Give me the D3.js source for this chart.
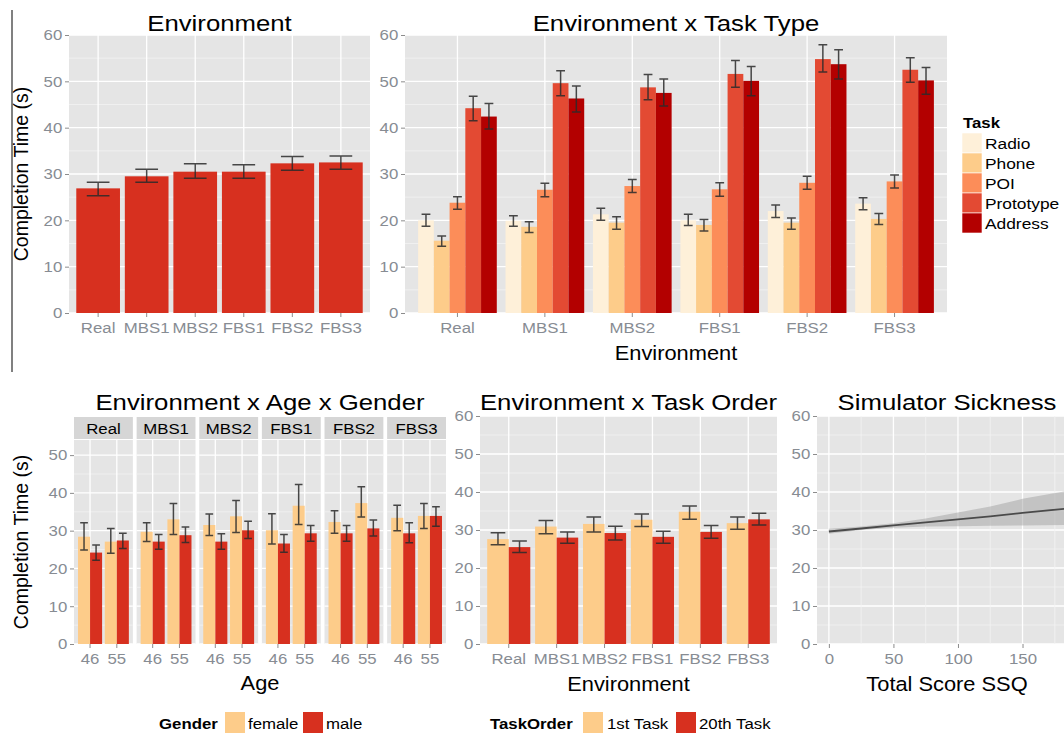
<!DOCTYPE html>
<html>
<head>
<meta charset="utf-8">
<script src="https://cdn.jsdelivr.net/npm/d3@7"></script>
<style>
  body { margin: 0; background: #fff; }
  svg { display: block; }
</style>
</head>
<body>
<svg id="chart" width="1064" height="733"></svg>
<script>
// ---------- data ----------
const envs = ["Real", "MBS1", "MBS2", "FBS1", "FBS2", "FBS3"];

// Environment (overall)
const envMean = [26.9, 29.5, 30.5, 30.5, 32.3, 32.5];
const envLow  = [25.3, 28.2, 29.1, 29.1, 30.8, 31.0];
const envHigh = [28.2, 31.0, 32.2, 32.0, 33.8, 33.9];

// Environment x Task Type
const tasks = ["Radio", "Phone", "POI", "Prototype", "Address"];
const radioMean = [20.0, 19.9, 21.3, 20.0, 22.0, 23.6];
const radioLow  = [18.7, 18.7, 20.0, 18.9, 20.6, 22.3];
const radioHigh = [21.3, 21.0, 22.6, 21.3, 23.3, 24.9];
const phoneMean = [15.6, 18.6, 19.5, 19.0, 19.5, 20.3];
const phoneLow  = [14.4, 17.4, 18.1, 17.7, 18.1, 19.1];
const phoneHigh = [16.6, 19.7, 20.8, 20.2, 20.5, 21.5];
const poiMean   = [23.8, 26.6, 27.4, 26.7, 28.1, 28.4];
const poiLow    = [22.4, 25.1, 26.0, 25.2, 26.7, 27.0];
const poiHigh   = [25.1, 28.0, 28.8, 28.1, 29.5, 29.8];
const protoMean = [44.2, 49.6, 48.7, 51.6, 54.8, 52.5];
const protoLow  = [41.5, 46.9, 46.0, 48.7, 52.0, 49.8];
const protoHigh = [46.8, 52.3, 51.5, 54.5, 57.9, 55.1];
const addrMean  = [42.4, 46.3, 47.5, 50.1, 53.7, 50.2];
const addrLow   = [39.7, 43.4, 44.7, 46.9, 50.5, 47.2];
const addrHigh  = [45.2, 49.0, 50.5, 53.2, 56.8, 53.0];

// Environment x Age x Gender
const ages = ["46", "55"];
const genders = ["female", "male"];
const female46Mean = [28.4, 29.7, 31.5, 30.1, 32.3, 33.4];
const female46Low  = [24.9, 27.1, 28.7, 26.5, 29.3, 30.0];
const female46High = [32.1, 32.1, 34.4, 34.5, 35.3, 36.7];
const male46Mean   = [24.2, 27.1, 27.1, 26.6, 29.3, 29.3];
const male46Low    = [22.2, 25.1, 25.1, 24.3, 27.2, 26.8];
const male46High   = [26.2, 29.0, 29.2, 29.0, 31.4, 32.1];
const female55Mean = [27.1, 33.0, 33.8, 36.6, 37.3, 33.9];
const female55Low  = [24.0, 29.0, 29.5, 31.6, 33.6, 30.6];
const female55High = [30.6, 37.2, 38.0, 42.2, 41.6, 37.2];
const male55Mean   = [27.4, 28.8, 30.1, 29.3, 30.6, 33.9];
const male55Low    = [25.3, 26.9, 27.9, 27.2, 28.6, 31.2];
const male55High   = [29.3, 31.0, 32.5, 31.4, 32.8, 36.3];

// Environment x Task Order
const orders = ["1st Task", "20th Task"];
const firstMean = [27.6, 30.9, 31.6, 32.7, 34.8, 31.8];
const firstLow  = [26.1, 29.0, 29.5, 30.9, 32.8, 30.2];
const firstHigh = [29.3, 32.5, 33.4, 34.2, 36.3, 33.4];
const lastMean  = [25.5, 28.0, 29.2, 28.2, 29.5, 32.8];
const lastLow   = [24.1, 26.5, 27.4, 26.5, 27.8, 31.3];
const lastHigh  = [27.1, 29.5, 31.0, 29.7, 31.2, 34.4];

// Simulator sickness: fitted trend with confidence band
const ssqScore = [0, 25, 50, 75, 100, 125, 150, 183];
const ssqFit   = [29.6, 30.4, 31.2, 32.0, 32.8, 33.6, 34.5, 35.6];
const ssqLower = [29.0, 30.0, 30.6, 30.9, 31.0, 31.1, 31.2, 31.3];
const ssqUpper = [30.3, 30.9, 31.8, 33.0, 34.6, 36.2, 38.2, 40.2];

const yTicks60 = [0, 10, 20, 30, 40, 50, 60];
const yTicks50 = [0, 10, 20, 30, 40, 50];
const ssqTicks = [0, 50, 100, 150];

// ---------- style ----------
const FONT = '"Liberation Sans", Arial, Helvetica, sans-serif';
const SX = 1.12;                 // horizontal text stretch
const PANEL_BG = "#E5E5E5";
const GRID_MAJOR = "#FFFFFF";
const GRID_MINOR = "#F2F2F2";
const TICK_TXT = "#878c93";
const TICK_LINE = "#8c8c8c";
const RED = "#D7301F";
const PEACH = "#FDCC8A";
const taskColors = ["#FEF0D9", "#FDCC8A", "#FC8D59", "#E34A33", "#B30000"];
const ERR = "#2a2a2a";

const svg = d3.select("#chart");
svg.append("rect").attr("width", 1064).attr("height", 733).attr("fill", "#fff");

// ---------- helpers ----------
function label(g, x, y, s, o = {}) {
  const sx = o.sx ?? SX;
  return g.append("text")
    .attr("transform", `translate(${x},${y})` + (o.rotate ? ` rotate(${o.rotate})` : "") + ` scale(${sx},1)`)
    .attr("text-anchor", o.anchor || "middle")
    .attr("font-family", FONT)
    .attr("font-size", o.size || 15)
    .attr("font-weight", o.weight || "normal")
    .attr("fill", o.fill || "#000")
    .text(s);
}

function panelBg(g, x0, x1, y0, y1) {
  g.append("rect").attr("x", x0).attr("y", y0)
    .attr("width", x1 - x0).attr("height", y1 - y0).attr("fill", PANEL_BG);
}

function hGrid(g, y, x0, x1, majors, minors) {
  g.append("g").selectAll("line").data(minors).join("line")
    .attr("x1", x0).attr("x2", x1).attr("y1", d => y(d)).attr("y2", d => y(d))
    .attr("stroke", GRID_MINOR).attr("stroke-width", 0.8);
  g.append("g").selectAll("line").data(majors).join("line")
    .attr("x1", x0).attr("x2", x1).attr("y1", d => y(d)).attr("y2", d => y(d))
    .attr("stroke", GRID_MAJOR).attr("stroke-width", 1.3);
}

function vGrid(g, xs, y0, y1, color, w) {
  g.append("g").selectAll("line").data(xs).join("line")
    .attr("x1", d => d).attr("x2", d => d).attr("y1", y0).attr("y2", y1)
    .attr("stroke", color).attr("stroke-width", w);
}

function styleAxis(ax) {
  ax.select(".domain").remove();
  ax.selectAll(".tick line").attr("stroke", TICK_LINE).attr("stroke-width", 1);
  ax.selectAll(".tick text")
    .attr("fill", TICK_TXT).attr("font-size", 15).attr("font-family", FONT)
    .attr("transform", `scale(${SX},1)`);
}

function leftAxis(g, y, ticks, xEdge) {
  g.append("g").attr("transform", `translate(${xEdge},0)`)
    .call(d3.axisLeft(y).tickValues(ticks).tickSizeInner(4).tickSizeOuter(0).tickPadding(2))
    .call(styleAxis);
}

function bottomAxisBand(g, x, yEdge, fmt) {
  g.append("g").attr("transform", `translate(0,${yEdge})`)
    .call(d3.axisBottom(x).tickSizeInner(4).tickSizeOuter(0).tickPadding(5).tickFormat(fmt || (d => d)))
    .call(styleAxis);
}

function errorBars(g, data, y, halfW) {
  g.append("g").selectAll("path").data(data).join("path")
    .attr("d", d => `M${d.cx - halfW},${y(d.hi)}H${d.cx + halfW}M${d.cx},${y(d.hi)}V${y(d.lo)}M${d.cx - halfW},${y(d.lo)}H${d.cx + halfW}`)
    .attr("fill", "none").attr("stroke", ERR).attr("stroke-opacity", 0.85).attr("stroke-width", 1.5);
}

const minors60 = [5, 15, 25, 35, 45, 55];

// ---------- left rule ----------
svg.append("line").attr("x1", 12).attr("x2", 12).attr("y1", 10).attr("y2", 372)
  .attr("stroke", "#808080").attr("stroke-width", 2);

// ---------- Panel: Environment ----------
{
  const g = svg.append("g");
  const x0 = 69, x1 = 370, y0 = 35, y1 = 313;
  const x = d3.scaleBand().domain(envs).range([x0, x1]).paddingInner(0.1).paddingOuter(0.15);
  const y = d3.scaleLinear().domain([0, 60]).range([y1, y0]);
  panelBg(g, x0, x1, y0, y1);
  hGrid(g, y, x0, x1, yTicks60, minors60);
  vGrid(g, envs.map(e => x(e) + x.bandwidth() / 2), y0, y1, GRID_MAJOR, 1.3);
  const rows = envs.map((e, i) => ({ env: e, mean: envMean[i], lo: envLow[i], hi: envHigh[i], cx: x(e) + x.bandwidth() / 2 }));
  g.append("g").selectAll("rect").data(rows).join("rect")
    .attr("x", d => x(d.env)).attr("width", x.bandwidth())
    .attr("y", d => y(d.mean)).attr("height", d => y(0) - y(d.mean))
    .attr("fill", RED);
  errorBars(g, rows, y, x.bandwidth() * 0.26);
  leftAxis(g, y, yTicks60, x0);
  bottomAxisBand(g, x, y1);
  label(g, (x0 + x1) / 2, 31, "Environment", { size: 23 });
  label(g, 28, (y0 + y1) / 2, "Completion Time (s)", { size: 19.5, rotate: -90, sx: 1 });
}

// ---------- Panel: Environment x Task Type ----------
{
  const g = svg.append("g");
  const x0 = 405, x1 = 947, y0 = 35, y1 = 313;
  const x = d3.scaleBand().domain(envs).range([x0, x1]).paddingInner(0.1).paddingOuter(0.15);
  const xt = d3.scaleBand().domain(tasks).range([0, x.bandwidth()]);
  const y = d3.scaleLinear().domain([0, 60]).range([y1, y0]);
  panelBg(g, x0, x1, y0, y1);
  hGrid(g, y, x0, x1, yTicks60, minors60);
  vGrid(g, envs.map(e => x(e) + x.bandwidth() / 2), y0, y1, GRID_MAJOR, 1.3);
  const series = [
    [radioMean, radioLow, radioHigh],
    [phoneMean, phoneLow, phoneHigh],
    [poiMean, poiLow, poiHigh],
    [protoMean, protoLow, protoHigh],
    [addrMean, addrLow, addrHigh]
  ];
  const rows = [];
  envs.forEach((e, i) => tasks.forEach((t, k) => {
    rows.push({ env: e, task: t, k, mean: series[k][0][i], lo: series[k][1][i], hi: series[k][2][i],
      cx: x(e) + xt(t) + xt.bandwidth() / 2 });
  }));
  g.append("g").selectAll("rect").data(rows).join("rect")
    .attr("x", d => x(d.env) + xt(d.task)).attr("width", xt.bandwidth())
    .attr("y", d => y(d.mean)).attr("height", d => y(0) - y(d.mean))
    .attr("fill", d => taskColors[d.k]);
  errorBars(g, rows, y, xt.bandwidth() * 0.28);
  leftAxis(g, y, yTicks60, x0);
  bottomAxisBand(g, x, y1);
  label(g, (x0 + x1) / 2, 31, "Environment x Task Type", { size: 23 });
  label(g, (x0 + x1) / 2, 360, "Environment", { size: 19.5 });

  // legend
  const lg = svg.append("g");
  label(lg, 963, 128, "Task", { size: 15, weight: "bold", anchor: "start" });
  const ky = d3.scaleBand().domain(tasks).range([133, 233]);
  lg.selectAll("rect.key").data(tasks).join("rect").attr("class", "key")
    .attr("x", 962).attr("y", d => ky(d)).attr("width", 20).attr("height", ky.bandwidth())
    .attr("fill", (d, i) => taskColors[i]).attr("stroke", "#fff").attr("stroke-width", 0.6);
  tasks.forEach(t => label(lg, 985, ky(t) + ky.bandwidth() / 2 + 5.5, t, { size: 15.5, anchor: "start" }));
}

// ---------- Panel: Environment x Age x Gender ----------
{
  const g = svg.append("g");
  const fx0 = 74, fx1 = 446, sy0 = 417, sy1 = 439, y0 = 440, y1 = 644;
  const facet = d3.scaleBand().domain(envs).range([fx0, fx1]).paddingInner(0.06);
  const xa = d3.scaleBand().domain(ages).range([0, facet.bandwidth()]).paddingInner(0.1).paddingOuter(0.15);
  const xg = d3.scaleBand().domain(genders).range([0, xa.bandwidth()]);
  const y = d3.scaleLinear().domain([0, 54]).range([y1, y0]);
  const cells = [
    ["46", "female", female46Mean, female46Low, female46High],
    ["46", "male", male46Mean, male46Low, male46High],
    ["55", "female", female55Mean, female55Low, female55High],
    ["55", "male", male55Mean, male55Low, male55High]
  ];
  envs.forEach((e, i) => {
    const fg = g.append("g");
    const px0 = facet(e), px1 = facet(e) + facet.bandwidth();
    // strip
    fg.append("rect").attr("x", px0).attr("y", sy0).attr("width", px1 - px0).attr("height", sy1 - sy0)
      .attr("fill", "#D6D6D6");
    label(fg, (px0 + px1) / 2, 434, e, { size: 15 });
    panelBg(fg, px0, px1, y0, y1);
    hGrid(fg, y, px0, px1, yTicks50, [5, 15, 25, 35, 45]);
    vGrid(fg, ages.map(a => px0 + xa(a) + xa.bandwidth() / 2), y0, y1, GRID_MAJOR, 1.3);
    const rows = cells.map(c => ({ age: c[0], gender: c[1], mean: c[2][i], lo: c[3][i], hi: c[4][i],
      cx: px0 + xa(c[0]) + xg(c[1]) + xg.bandwidth() / 2 }));
    fg.append("g").selectAll("rect").data(rows).join("rect")
      .attr("x", d => px0 + xa(d.age) + xg(d.gender)).attr("width", xg.bandwidth())
      .attr("y", d => y(d.mean)).attr("height", d => y(0) - y(d.mean))
      .attr("fill", d => d.gender === "female" ? PEACH : RED);
    errorBars(fg, rows, y, xg.bandwidth() * 0.32);
    const xax = d3.scaleBand().domain(ages).range([px0, px1]).paddingInner(0.1).paddingOuter(0.15);
    bottomAxisBand(fg, xax, y1);
  });
  leftAxis(g, y, yTicks50, fx0);
  label(g, (fx0 + fx1) / 2, 410, "Environment x Age x Gender", { size: 23 });
  label(g, (fx0 + fx1) / 2, 690, "Age", { size: 19.5 });
  label(g, 28, (y0 + y1) / 2, "Completion Time (s)", { size: 19.5, rotate: -90, sx: 1 });

  // legend
  const lg = svg.append("g");
  label(lg, 159, 729, "Gender", { size: 15, weight: "bold", anchor: "start" });
  const keyX = [225, 303];
  lg.selectAll("rect").data(genders).join("rect")
    .attr("x", (d, i) => keyX[i]).attr("y", 712).attr("width", 20).attr("height", 21)
    .attr("fill", d => d === "female" ? PEACH : RED);
  label(lg, 248, 729, "female", { size: 15, anchor: "start" });
  label(lg, 326, 729, "male", { size: 15, anchor: "start" });
}

// ---------- Panel: Environment x Task Order ----------
{
  const g = svg.append("g");
  const x0 = 480, x1 = 777, y0 = 416, y1 = 644;
  const x = d3.scaleBand().domain(envs).range([x0, x1]).paddingInner(0.1).paddingOuter(0.15);
  const xo = d3.scaleBand().domain(orders).range([0, x.bandwidth()]);
  const y = d3.scaleLinear().domain([0, 60]).range([y1, y0]);
  panelBg(g, x0, x1, y0, y1);
  hGrid(g, y, x0, x1, yTicks60, minors60);
  vGrid(g, envs.map(e => x(e) + x.bandwidth() / 2), y0, y1, GRID_MAJOR, 1.3);
  const series = [[firstMean, firstLow, firstHigh], [lastMean, lastLow, lastHigh]];
  const rows = [];
  envs.forEach((e, i) => orders.forEach((o, k) => rows.push({
    env: e, order: o, k, mean: series[k][0][i], lo: series[k][1][i], hi: series[k][2][i],
    cx: x(e) + xo(o) + xo.bandwidth() / 2 })));
  g.append("g").selectAll("rect").data(rows).join("rect")
    .attr("x", d => x(d.env) + xo(d.order)).attr("width", xo.bandwidth())
    .attr("y", d => y(d.mean)).attr("height", d => y(0) - y(d.mean))
    .attr("fill", d => d.k === 0 ? PEACH : RED);
  errorBars(g, rows, y, xo.bandwidth() * 0.34);
  leftAxis(g, y, yTicks60, x0);
  bottomAxisBand(g, x, y1);
  label(g, (x0 + x1) / 2, 410, "Environment x Task Order", { size: 23 });
  label(g, (x0 + x1) / 2, 691, "Environment", { size: 19.5 });

  const lg = svg.append("g");
  label(lg, 490, 729, "TaskOrder", { size: 15, weight: "bold", anchor: "start" });
  const keyX = [583, 676];
  lg.selectAll("rect").data(orders).join("rect")
    .attr("x", (d, i) => keyX[i]).attr("y", 712).attr("width", 20).attr("height", 21)
    .attr("fill", (d, i) => i === 0 ? PEACH : RED);
  label(lg, 607, 729, "1st Task", { size: 15, anchor: "start" });
  label(lg, 699, 729, "20th Task", { size: 15, anchor: "start" });
}

// ---------- Panel: Simulator Sickness ----------
{
  const g = svg.append("g");
  const x0 = 817, x1 = 1077, y0 = 416, y1 = 644;
  const x = d3.scaleLinear().domain([-9.2, 192.2]).range([x0, x1]);
  const y = d3.scaleLinear().domain([0, 60]).range([y1, y0]);
  svg.append("clipPath").attr("id", "ssqClip").append("rect")
    .attr("x", x0).attr("y", y0).attr("width", x1 - x0).attr("height", y1 - y0);
  panelBg(g, x0, x1, y0, y1);
  hGrid(g, y, x0, x1, yTicks60, minors60);
  vGrid(g, [25, 75, 125, 175].map(x), y0, y1, GRID_MINOR, 0.8);
  vGrid(g, ssqTicks.map(x), y0, y1, GRID_MAJOR, 1.3);
  const pts = ssqScore.map((s, i) => ({ s, fit: ssqFit[i], lo: ssqLower[i], hi: ssqUpper[i] }));
  const pg = g.append("g").attr("clip-path", "url(#ssqClip)");
  pg.append("path").datum(pts)
    .attr("d", d3.area().x(d => x(d.s)).y0(d => y(d.lo)).y1(d => y(d.hi)))
    .attr("fill", "#999999").attr("fill-opacity", 0.45);
  pg.append("path").datum(pts)
    .attr("d", d3.line().x(d => x(d.s)).y(d => y(d.fit)))
    .attr("fill", "none").attr("stroke", "#4a4a4a").attr("stroke-width", 1.8);
  leftAxis(g, y, yTicks60, x0);
  g.append("g").attr("transform", `translate(0,${y1})`)
    .call(d3.axisBottom(x).tickValues(ssqTicks).tickSizeInner(4).tickSizeOuter(0).tickPadding(5))
    .call(styleAxis);
  label(g, (x0 + x1) / 2, 410, "Simulator Sickness", { size: 23 });
  label(g, (x0 + x1) / 2, 691, "Total Score SSQ", { size: 19.5 });
}
</script>
</body>
</html>
